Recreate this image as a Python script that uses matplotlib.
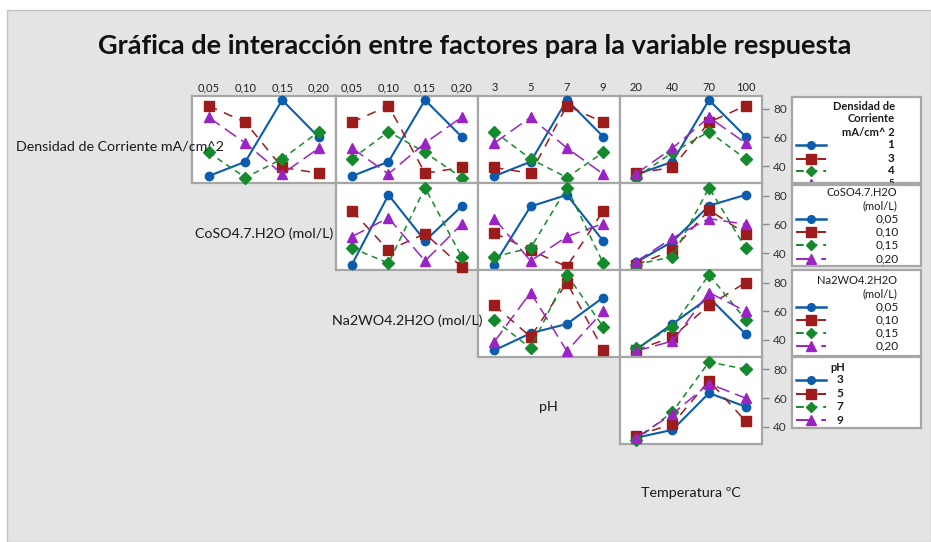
import matplotlib
matplotlib.use('Agg')
import matplotlib.pyplot as plt
from matplotlib.patches import Rectangle

# ---------------- data ----------------
factor_names = ['Densidad de Corriente mA/cm^2', 'CoSO4.7.H2O (mol/L)',
                'Na2WO4.2H2O (mol/L)', 'pH', 'Temperatura ºC']
dens_levels = ['1', '3', '4', '5']
coso4_levels = ['0,05', '0,10', '0,15', '0,20']
na2wo4_levels = ['0,05', '0,10', '0,15', '0,20']
ph_levels = ['3', '5', '7', '9']
temp_levels = ['20', '40', '70', '100']

# rows = levels of the line factor, columns = levels of the x factor
dens_coso4 = [[33, 43, 86, 60], [82, 70.5, 39, 35], [49.5, 32, 45, 64], [74, 56, 34.5, 52.5]]
dens_na2wo4 = [[33, 43, 86, 60.5], [70.5, 82, 35, 39], [45, 64, 49.5, 32], [52.5, 34.5, 56, 74]]
dens_ph = [[33, 43, 86, 60.5], [39, 35, 82, 70.5], [64, 45, 32, 49.5], [56, 74, 52.5, 34.5]]
dens_temp = [[34, 43, 86, 60.5], [35, 39, 70.5, 82], [32, 49.5, 64, 45], [34.5, 52.5, 74, 56]]
coso4_na2wo4 = [[32, 80.5, 48.5, 72.5], [69.5, 42, 53.5, 30.5], [43.5, 33, 85.5, 37.5], [51.5, 64.5, 34.5, 60]]
coso4_ph = [[32, 72.5, 80.5, 48.5], [54, 42, 30.5, 69.5], [37.5, 43.5, 85.5, 33], [64, 34.5, 51.5, 60.5]]
coso4_temp = [[33.5, 48, 73, 80.5], [31.5, 42, 70, 53.5], [32, 37.5, 85.5, 43.5], [34, 50.5, 64, 60]]
na2wo4_ph = [[32.5, 44.5, 51, 69.5], [64, 42, 80, 33], [54, 34, 85.5, 49], [38.5, 73, 32, 60]]
na2wo4_temp = [[33, 51, 69.5, 44], [32.5, 42, 64, 80], [34, 49, 85.5, 54], [32, 39, 73, 60]]
ph_temp = [[32.5, 38, 63.5, 54], [34, 42, 72, 44], [31, 50.5, 85, 80], [32.5, 49, 70, 60]]

y_ticks = [40, 60, 80]

# ---------------- style ----------------
FONT = 'Lato'
plt.rcParams['font.family'] = [FONT, 'DejaVu Sans']
W, H = 931, 542
fig = plt.figure(figsize=(W / 100, H / 100), dpi=100)
fig.patch.set_facecolor('white')
fig.patches.append(Rectangle((7 / W, 0), 1 - 7 / W, 1 - 10 / H, transform=fig.transFigure,
                             facecolor='#e4e4e4', edgecolor='#c4c4c4', lw=1, zorder=-10))

colors = ['#0b5cad', '#9e1b1b', '#158a2c', '#9b22c4']
markers = ['o', 's', 'D', '^']
msizes = [6, 7, 6, 7.5]
lstyles = ['-', (0, (6, 5)), (0, (4, 3)), (0, (9, 4))]
lwidths = [1.5, 1.1, 1.1, 1.1]

level_sets = [dens_levels, coso4_levels, na2wo4_levels, ph_levels, temp_levels]
panels = {
    (0, 1): dens_coso4, (0, 2): dens_na2wo4, (0, 3): dens_ph, (0, 4): dens_temp,
    (1, 2): coso4_na2wo4, (1, 3): coso4_ph, (1, 4): coso4_temp,
    (2, 3): na2wo4_ph, (2, 4): na2wo4_temp,
    (3, 4): ph_temp,
}

col_edges = [192, 335.5, 478, 619.5, 762]
row_edges = [96, 183, 270, 356.5, 444]
BORDER = '#a6a6a6'


def px_axes(x0, y0, x1, y1):
    return fig.add_axes([x0 / W, 1 - y1 / H, (x1 - x0) / W, (y1 - y0) / H])


for i in range(4):
    for j in range(1, 5):
        if (i, j) not in panels:
            continue
        data = panels[(i, j)]
        ax = px_axes(col_edges[j - 1], row_edges[i], col_edges[j], row_edges[i + 1])
        ax.set_facecolor('white')
        xs = list(range(len(level_sets[j])))
        for k, series in enumerate(data):
            ax.plot(xs, series, color=colors[k], marker=markers[k], ms=msizes[k],
                    ls=lstyles[k], lw=lwidths[k], clip_on=False, zorder=3 + k * 0.1)
        ax.set_xlim(-0.45, 3.45)
        ax.set_ylim(28.2, 88.8)
        for s in ax.spines.values():
            s.set_color(BORDER)
            s.set_linewidth(1.6)
        ax.set_xticks(xs)
        if i == 0:
            ax.xaxis.tick_top()
            ax.set_xticklabels(level_sets[j], fontsize=8, color='#222222')
            ax.tick_params(axis='x', length=0, pad=2)
        else:
            ax.set_xticklabels([])
            ax.tick_params(axis='x', length=0)
        if j == 4:
            ax.yaxis.tick_right()
            ax.set_yticks(y_ticks)
            ax.set_yticklabels([str(t) for t in y_ticks], fontsize=8.5, color='#333333')
            ax.tick_params(axis='y', length=5, width=1, color='#888888', pad=3)
        else:
            ax.set_yticks([])

# diagonal labels
for k in range(5):
    if k == 0:
        cx = col_edges[0] - (col_edges[1] - col_edges[0]) / 2
    else:
        cx = (col_edges[k - 1] + col_edges[k]) / 2
    if k < 4:
        cy = (row_edges[k] + row_edges[k + 1]) / 2 + 7
    else:
        cy = 493
    fig.text(cx / W, 1 - cy / H, factor_names[k], ha='center', va='center',
             fontsize=10.3, color='#1a1a1a')

fig.text(475 / W, 1 - 46 / H, 'Gráfica de interacción entre factores para la variable respuesta',
         ha='center', va='center', fontsize=19.5, fontweight='bold', color='#111111')

# ---------------- legends ----------------
legend_specs = [
    dict(box=(791.5, 97, 920.5, 183), title=['Densidad de', 'Corriente', 'mA/cm^ 2'],
         title_y=[106, 119, 132], title_x=895, title_ha='right', bold=True,
         entry_y=[145, 158.5, 171, 184], labels=dens_levels, label_x=894, label_ha='right'),
    dict(box=(791.5, 185, 920.5, 266), title=['CoSO4.7.H2O', '(mol/L)'],
         title_y=[193, 205.5], title_x=897, title_ha='right', bold=False,
         entry_y=[218.5, 232, 245, 258.5], labels=coso4_levels, label_x=899, label_ha='right'),
    dict(box=(791.5, 270, 920.5, 356), title=['Na2WO4.2H2O', '(mol/L)'],
         title_y=[281, 294], title_x=897, title_ha='right', bold=False,
         entry_y=[306.5, 320, 333, 345.5], labels=na2wo4_levels, label_x=899, label_ha='right'),
    dict(box=(791.5, 357, 920.5, 428), title=['pH'],
         title_y=[368], title_x=838, title_ha='center', bold=True,
         entry_y=[380, 393.5, 407, 420], labels=ph_levels, label_x=840, label_ha='center'),
]

for spec in legend_specs:
    x0, y0, x1, y1 = spec['box']
    lax = px_axes(x0, y0, x1, y1)
    lax.set_xlim(x0, x1)
    lax.set_ylim(y1, y0)
    lax.set_xticks([])
    lax.set_yticks([])
    lax.set_facecolor('white')
    for s in lax.spines.values():
        s.set_color(BORDER)
        s.set_linewidth(1.6)
    weight = 'bold' if spec['bold'] else 'normal'
    for t, ty in zip(spec['title'], spec['title_y']):
        lax.text(spec['title_x'], ty, t, ha=spec['title_ha'], va='center', fontsize=8,
                 fontweight=weight, color='#1a1a1a', clip_on=True)
    for k, (lab, ey) in enumerate(zip(spec['labels'], spec['entry_y'])):
        lax.plot([796, 826], [ey, ey], color=colors[k], ls=lstyles[k], lw=lwidths[k] + 0.3,
                 clip_on=True)
        lax.plot([811], [ey], color=colors[k], marker=markers[k], ms=msizes[k] - 0.5,
                 ls='none', clip_on=True)
        fs = 8.5 if ey < y1 - 4 else 7
        lax.text(spec['label_x'], ey, lab, ha=spec['label_ha'], va='center', fontsize=fs,
                 fontweight=weight, color='#1a1a1a', clip_on=True)

fig.savefig('out.png', dpi=100)
